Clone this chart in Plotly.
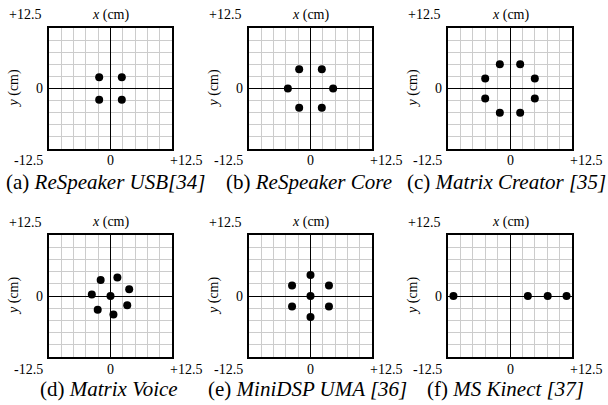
import plotly.graph_objects as go

W, H = 608, 405

# ---- data (cm) ----
captions_tag = ["(a)", "(b)", "(c)", "(d)", "(e)", "(f)"]
captions_name = ["ReSpeaker USB[34]", "ReSpeaker Core", "Matrix Creator [35]",
                 "Matrix Voice", "MiniDSP UMA [36]", "MS Kinect [37]"]

a_x = [-2.3, 2.3, -2.3, 2.3]
a_y = [2.3, 2.3, -2.3, -2.3]

b_x = [-2.3, 2.3, -4.6, 4.6, -2.3, 2.3]
b_y = [4.0, 4.0, 0.0, 0.0, -4.0, -4.0]

c_x = [-2.05, 2.05, -5.0, 5.0, -5.0, 5.0, -2.05, 2.05]
c_y = [5.0, 5.0, 2.05, 2.05, -2.05, -2.05, -5.0, -5.0]

d_x = [-2.0, 1.4, 3.8, -3.8, 0.0, 3.4, -2.6, 0.6]
d_y = [3.3, 3.8, 1.4, 0.3, 0.0, -1.9, -2.8, -3.8]

e_x = [0.0, -3.75, 3.75, 0.0, -3.75, 3.75, 0.0]
e_y = [4.3, 2.15, 2.15, 0.0, -2.15, -2.15, -4.3]

f_x = [-11.4, 3.6, 7.6, 11.4]
f_y = [0.0, 0.0, 0.0, 0.0]

xs = [a_x, b_x, c_x, d_x, e_x, f_x]
ys = [a_y, b_y, c_y, d_y, e_y, f_y]

axis_lim = 12.5
grid_step = 2.5

# ---- layout geometry (pixels) ----
col_left = [49, 249, 448]
col_right = [172, 372, 572]
row_top = [28, 235]
row_bot = [149, 357]
cap_cx = [106, 309, 506, 109, 307, 505]
cap_cy = [182, 182, 182, 389, 389, 389]

SERIF = "Liberation Serif"
fig = go.Figure()
annotations = []

for i in range(6):
    r, c = divmod(i, 3)
    ax = "" if i == 0 else str(i + 1)
    xname, yname = "x" + ax, "y" + ax
    fig.add_trace(go.Scatter(
        x=xs[i], y=ys[i], mode="markers",
        marker=dict(color="black", size=8),
        xaxis=xname, yaxis=yname, showlegend=False, cliponaxis=False))
    common = dict(range=[-axis_lim, axis_lim], dtick=grid_step, tick0=-axis_lim,
                  showgrid=True, gridcolor="#cccccc", gridwidth=1,
                  zeroline=True, zerolinecolor="black", zerolinewidth=1.3,
                  showline=True, linecolor="black", linewidth=1.6, mirror=True,
                  showticklabels=False, ticks="", fixedrange=True)
    fig.layout["xaxis" + ax] = dict(common, domain=[col_left[c] / W, col_right[c] / W],
                                    anchor=yname)
    fig.layout["yaxis" + ax] = dict(common, domain=[1 - row_bot[r] / H, 1 - row_top[r] / H],
                                    anchor=xname)

    def ann(text, x, y, xs_=0, ys_=0, size=14, angle=0):
        annotations.append(dict(text=text, x=x, y=y, xref=xname, yref=yname,
                                xshift=xs_, yshift=ys_, showarrow=False,
                                xanchor="center", yanchor="middle", textangle=angle,
                                font=dict(family=SERIF, size=size, color="black")))

    ann("+12.5", -axis_lim, axis_lim, -24, 13)
    ann("<i>x</i> (cm)", 0, axis_lim, 0, 13)
    ann("<i>y</i> (cm)", -axis_lim, 0, -35, 0, angle=-90)
    ann("0", -axis_lim, 0, -10, 0)
    ann("-12.5", -axis_lim, -axis_lim, -21, -12)
    ann("0", 0, -axis_lim, 0, -12)
    ann("+12.5", axis_lim, -axis_lim, 14, -12)

    annotations.append(dict(text=captions_tag[i] + " <i>" + captions_name[i] + "</i>",
                            x=cap_cx[i] / W, y=1 - cap_cy[i] / H, xref="paper", yref="paper",
                            showarrow=False, xanchor="center", yanchor="middle",
                            font=dict(family=SERIF, size=21, color="black")))

fig.update_layout(width=W, height=H, margin=dict(l=0, r=0, t=0, b=0),
                  paper_bgcolor="white", plot_bgcolor="white",
                  font=dict(family=SERIF),
                  annotations=annotations)
fig.write_html("out.html")
